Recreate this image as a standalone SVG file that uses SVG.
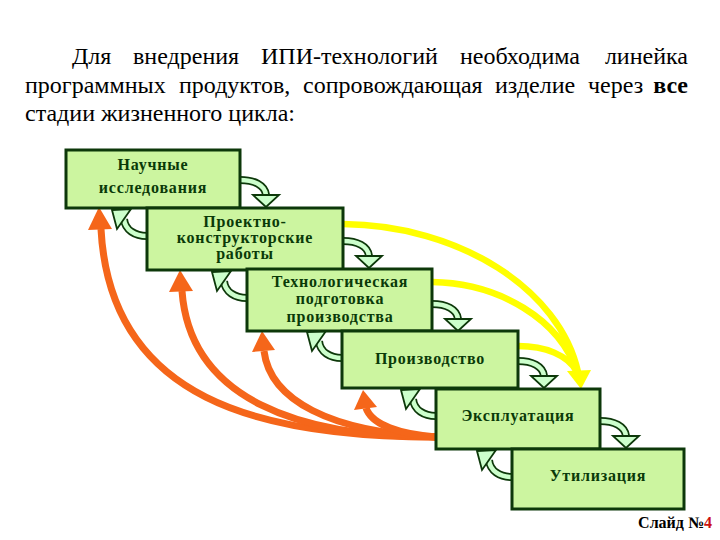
<svg xmlns="http://www.w3.org/2000/svg" xmlns:xlink="http://www.w3.org/1999/xlink" width="720" height="540" viewBox="0 0 720 540">
<style>
.hdr{font-family:"Liberation Serif","Times New Roman",serif;font-size:24px;fill:#000}
.b{font-weight:bold}
.box{fill:#ccf5a0;stroke:#0d380a;stroke-width:3}
.lbl{font-family:"Liberation Serif","Times New Roman",serif;font-size:16px;font-weight:bold;fill:#0a3a08;text-anchor:middle;letter-spacing:0.8px}
.or{fill:none;stroke:#f5661a;stroke-width:7}
.orh{fill:#f5661a}
.ye{fill:none;stroke:#ffff00;stroke-width:6.5}
.yeh{fill:#ffff00}
.gb{fill:none;stroke:#0d380a;stroke-width:8}
.gf{fill:none;stroke:#ccffcc;stroke-width:4.5}
.gh{fill:#ccffcc;stroke:#0d380a;stroke-width:1.8;stroke-linejoin:miter}
</style>
<defs>
<g id="ra">
<path class="gb" d="M0,0 C14,0 25,5 26,15"/>
<path class="gf" d="M0,0 C14,0 25,5 26,15"/>
<polygon class="gh" points="13,15 39,15 26,27"/>
</g>
<g id="la">
<path class="gb" d="M0,0 C-12,0 -22,-6 -23,-17"/>
<path class="gf" d="M0,0 C-12,0 -22,-6 -23,-17"/>
<polygon class="gh" points="-35,-26 -16,-27 -30,-7"/>
</g>
</defs>
<rect width="720" height="540" fill="#fff"/>
<g id="header">
<text class="hdr" y="64"><tspan x="72">Для</tspan><tspan x="133">внедрения</tspan><tspan x="261">ИПИ-технологий</tspan><tspan x="460">необходима</tspan><tspan x="688" text-anchor="end">линейка</tspan></text>
<text class="hdr" y="93"><tspan x="25">программных</tspan><tspan x="179">продуктов,</tspan><tspan x="303">сопровождающая</tspan><tspan x="495">изделие</tspan><tspan x="588">через</tspan><tspan x="688" text-anchor="end" class="b">все</tspan></text>
<text class="hdr" x="25" y="121">стадии жизненного цикла:</text>
</g>
<g id="connectors">
<path class="or" d="M436,437 C260,437 110,400 101,229"/>
<polygon class="orh" points="99,207 88,230 112,229"/>
<path class="or" d="M436,437 C300,437 190,400 182,291"/>
<polygon class="orh" points="180,270 169,292 193,291"/>
<path class="or" d="M436,437 C330,432 270,400 264,351"/>
<polygon class="orh" points="262,331 252,352 275,350"/>
<path class="or" d="M436,437 C400,434 372,425 366,408"/>
<polygon class="orh" points="363,390 354,410 377,407"/>
<path class="ye" d="M343,224 C460,225 560,290 578,372"/>
<path class="ye" d="M432,282 C500,283 560,320 577,372"/>
<path class="ye" d="M518,346 C545,346 568,355 577,372"/>
<polygon class="yeh" points="581,389 567,371 591,370"/>
<use xlink:href="#ra" x="240" y="180"/>
<use xlink:href="#ra" x="343" y="241"/>
<use xlink:href="#ra" x="432" y="304"/>
<use xlink:href="#ra" x="518" y="361"/>
<use xlink:href="#ra" x="600" y="421"/>
<use xlink:href="#la" x="147" y="236"/>
<use xlink:href="#la" x="247" y="298"/>
<use xlink:href="#la" x="342" y="358"/>
<use xlink:href="#la" x="436" y="416"/>
<use xlink:href="#la" x="512" y="477"/>
</g>
<g id="n1"><rect class="box" x="66" y="150" width="174" height="58"/><text class="lbl" x="153" y="170">Научные</text><text class="lbl" x="153" y="193">исследования</text></g>
<g id="n2"><rect class="box" x="147" y="208" width="196" height="62"/><text class="lbl" x="245" y="227">Проектно-</text><text class="lbl" x="245" y="243">конструкторские</text><text class="lbl" x="245" y="259">работы</text></g>
<g id="n3"><rect class="box" x="247" y="269" width="185" height="62"/><text class="lbl" x="340" y="287">Технологическая</text><text class="lbl" x="340" y="304">подготовка</text><text class="lbl" x="340" y="322">производства</text></g>
<g id="n4"><rect class="box" x="342" y="331" width="176" height="57"/><text class="lbl" x="430" y="364">Производство</text></g>
<g id="n5"><rect class="box" x="436" y="389" width="164" height="60"/><text class="lbl" x="518" y="421">Эксплуатация</text></g>
<g id="n6"><rect class="box" x="512" y="449" width="172" height="60"/><text class="lbl" x="598" y="481">Утилизация</text></g>
<text x="712" y="528" text-anchor="end" font-family="Liberation Serif, serif" font-size="16" font-weight="bold" fill="#000">Слайд №<tspan fill="#cc1111">4</tspan></text>
</svg>
